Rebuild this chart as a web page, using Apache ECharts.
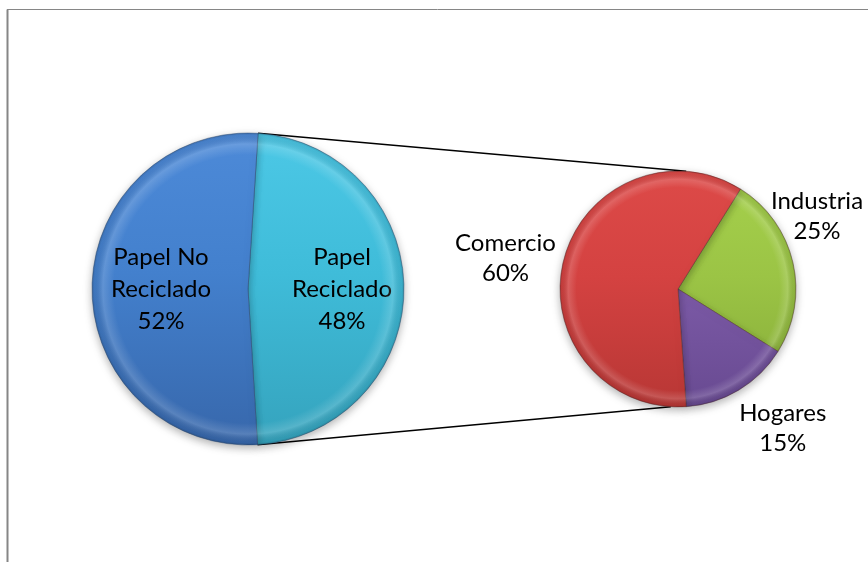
<!DOCTYPE html>
<html>
<head>
<meta charset="utf-8">
<script src="https://cdn.jsdelivr.net/npm/echarts@6/dist/echarts.min.js"></script>
<style>
html,body{margin:0;padding:0;background:#fff;}
#chart{width:868px;height:562px;}
</style>
</head>
<body>
<div id="chart"></div>
<script>
// ---- data ----
const mainNames = ['Papel Reciclado', 'Papel No Reciclado'];
const mainLabels = ['Papel\nReciclado', 'Papel No\nReciclado'];
const mainValues = [48, 52];
const subNames = ['Industria', 'Hogares', 'Comercio'];
const subValues = [25, 15, 60];

// ---- styles ----
const mainColors = [['#4cc8e6', '#3fbcd9', '#35a3bd'], ['#4d8ad8', '#4380cd', '#3767ab']];
const subColors = [['#a6d14c', '#9bc445', '#86ab38'], ['#8a6cb6', '#7d5ba8', '#684a91'], ['#dd4a48', '#d44241', '#b83735']];
const L = { cx: 248, cy: 289, r: 156, start: 86.3 };
const R = { cx: 678, cy: 289, r: 118, start: 58 };
const mainOffsets = [[13, 0], [-6, 0]];
const subOffsets = [[24, -46], [44, 38], [-58, -2]];
const FONT = 'Lato';
const FS = 24;

function grad(c, P) {
  return { type: 'linear', x: 0, y: P.cy - P.r, x2: 0, y2: P.cy + P.r, global: true,
    colorStops: [{ offset: 0, color: c[0] }, { offset: 0.45, color: c[1] }, { offset: 1, color: c[2] }] };
}
function pt(P, deg) {
  const a = deg * Math.PI / 180;
  return [P.cx + P.r * Math.cos(a), P.cy - P.r * Math.sin(a)];
}
function rim(P) {
  return { type: 'circle', silent: true, z: 10,
    shape: { cx: P.cx, cy: P.cy, r: P.r },
    style: { fill: { type: 'radial', x: P.cx, y: P.cy, r: P.r, global: true,
      colorStops: [{ offset: 0, color: 'rgba(255,255,255,0)' }, { offset: 0.86, color: 'rgba(255,255,255,0)' },
        { offset: 0.93, color: 'rgba(255,255,255,0.16)' }, { offset: 0.985, color: 'rgba(0,0,0,0.06)' }, { offset: 1, color: 'rgba(0,0,0,0.18)' }] } } };
}

const mainEnd = L.start - 360 * mainValues[0] / (mainValues[0] + mainValues[1]);
const lt = pt(L, L.start), lb = pt(L, mainEnd);
const rt = pt(R, 86), rb = pt(R, -93.5);

const chart = echarts.init(document.getElementById('chart'));
chart.setOption({
  animation: false,
  backgroundColor: '#fff',
  textStyle: { fontFamily: FONT },
  graphic: [
    { type: 'line', shape: { x1: 7.5, y1: 9.5, x2: 7.5, y2: 562 }, style: { stroke: '#868686', lineWidth: 2 } },
    { type: 'line', shape: { x1: 7, y1: 9.5, x2: 868, y2: 9.5 }, style: { stroke: '#868686', lineWidth: 1 } },
    { type: 'line', z: 0, shape: { x1: lt[0], y1: lt[1], x2: rt[0], y2: rt[1] }, style: { stroke: '#000', lineWidth: 1.5 } },
    { type: 'line', z: 0, shape: { x1: lb[0], y1: lb[1], x2: rb[0], y2: rb[1] }, style: { stroke: '#000', lineWidth: 1.5 } },
    rim(L), rim(R)
  ],
  series: [
    {
      type: 'pie', center: [L.cx, L.cy], radius: [0, L.r], startAngle: L.start, clockwise: true,
      avoidLabelOverlap: false, z: 2,
      itemStyle: { borderColor: 'rgba(40,70,110,0.45)', borderWidth: 1, shadowBlur: 8, shadowColor: 'rgba(0,0,0,0.3)', shadowOffsetY: 3 },
      label: { show: true, position: 'inside', color: '#000', fontFamily: FONT, fontSize: FS, lineHeight: 32,
        formatter: p => mainLabels[p.dataIndex] + '\n' + p.percent.toFixed(0) + '%' },
      labelLayout: p => ({ dx: mainOffsets[p.dataIndex][0], dy: mainOffsets[p.dataIndex][1] }),
      emphasis: { disabled: true },
      data: mainNames.map((n, i) => ({ name: n, value: mainValues[i], itemStyle: { color: grad(mainColors[i], L) } }))
    },
    {
      type: 'pie', center: [R.cx, R.cy], radius: [0, R.r], startAngle: R.start, clockwise: true,
      avoidLabelOverlap: false, z: 2,
      itemStyle: { borderColor: 'rgba(80,40,40,0.4)', borderWidth: 1, shadowBlur: 8, shadowColor: 'rgba(0,0,0,0.3)', shadowOffsetY: 3 },
      label: { show: true, position: 'outside', distanceToLabelLine: 0, color: '#000', fontFamily: FONT, fontSize: FS, lineHeight: 30,
        formatter: p => '{c|' + p.name + '}\n{c|' + p.percent.toFixed(0) + '%}',
        rich: { c: { align: 'center', fontFamily: FONT, fontSize: FS, lineHeight: 30, color: '#000' } } },
      labelLine: { show: false, length: 0, length2: 0 },
      labelLayout: p => ({ align: 'center', verticalAlign: 'middle', dx: subOffsets[p.dataIndex][0], dy: subOffsets[p.dataIndex][1] }),
      emphasis: { disabled: true },
      data: subNames.map((n, i) => ({ name: n, value: subValues[i], itemStyle: { color: grad(subColors[i], R) } }))
    }
  ]
});
</script>
</body>
</html>
